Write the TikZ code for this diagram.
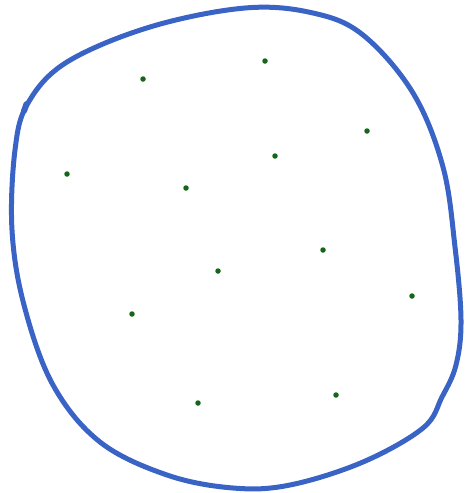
\documentclass[tikz,border=0pt]{standalone}
\definecolor{penblue}{HTML}{3A63C6}
\definecolor{dotgreen}{HTML}{16661A}
\tikzset{
  outline/.style={draw=penblue, line width=5pt, line cap=round, line join=round},
  pt/.style={circle, fill=dotgreen, inner sep=0pt, minimum size=5.5pt}
}
\begin{document}
\begin{tikzpicture}[x=1pt,y=-1pt]
\useasboundingbox (0,0) rectangle (468,493);
\draw[outline] plot[smooth cycle, tension=0.6] coordinates {
 (245,8) (313,13) (363,35) (413,93) (443,167) (455,247) (461,320)
 (456,365) (442,397) (423,428) (363,462) (290,485) (233,488) (167,475)
 (100,442) (53,385) (24,305) (12,230) (15,150) (28,103) (67,62) (150,27)};
\draw[penblue, line width=6pt, line cap=round] (24,111) -- (26.5,104);
\node[pt] (p1) at (143,79) {};
\node[pt] (p2) at (265,61) {};
\node[pt] (p3) at (367,131) {};
\node[pt] (p4) at (275,156) {};
\node[pt] (p5) at (67,174) {};
\node[pt] (p6) at (186,188) {};
\node[pt] (p7) at (323,250) {};
\node[pt] (p8) at (218,271) {};
\node[pt] (p9) at (412,296) {};
\node[pt] (p10) at (132,314) {};
\node[pt] (p11) at (336,395) {};
\node[pt] (p12) at (198,403) {};
\end{tikzpicture}
\end{document}
